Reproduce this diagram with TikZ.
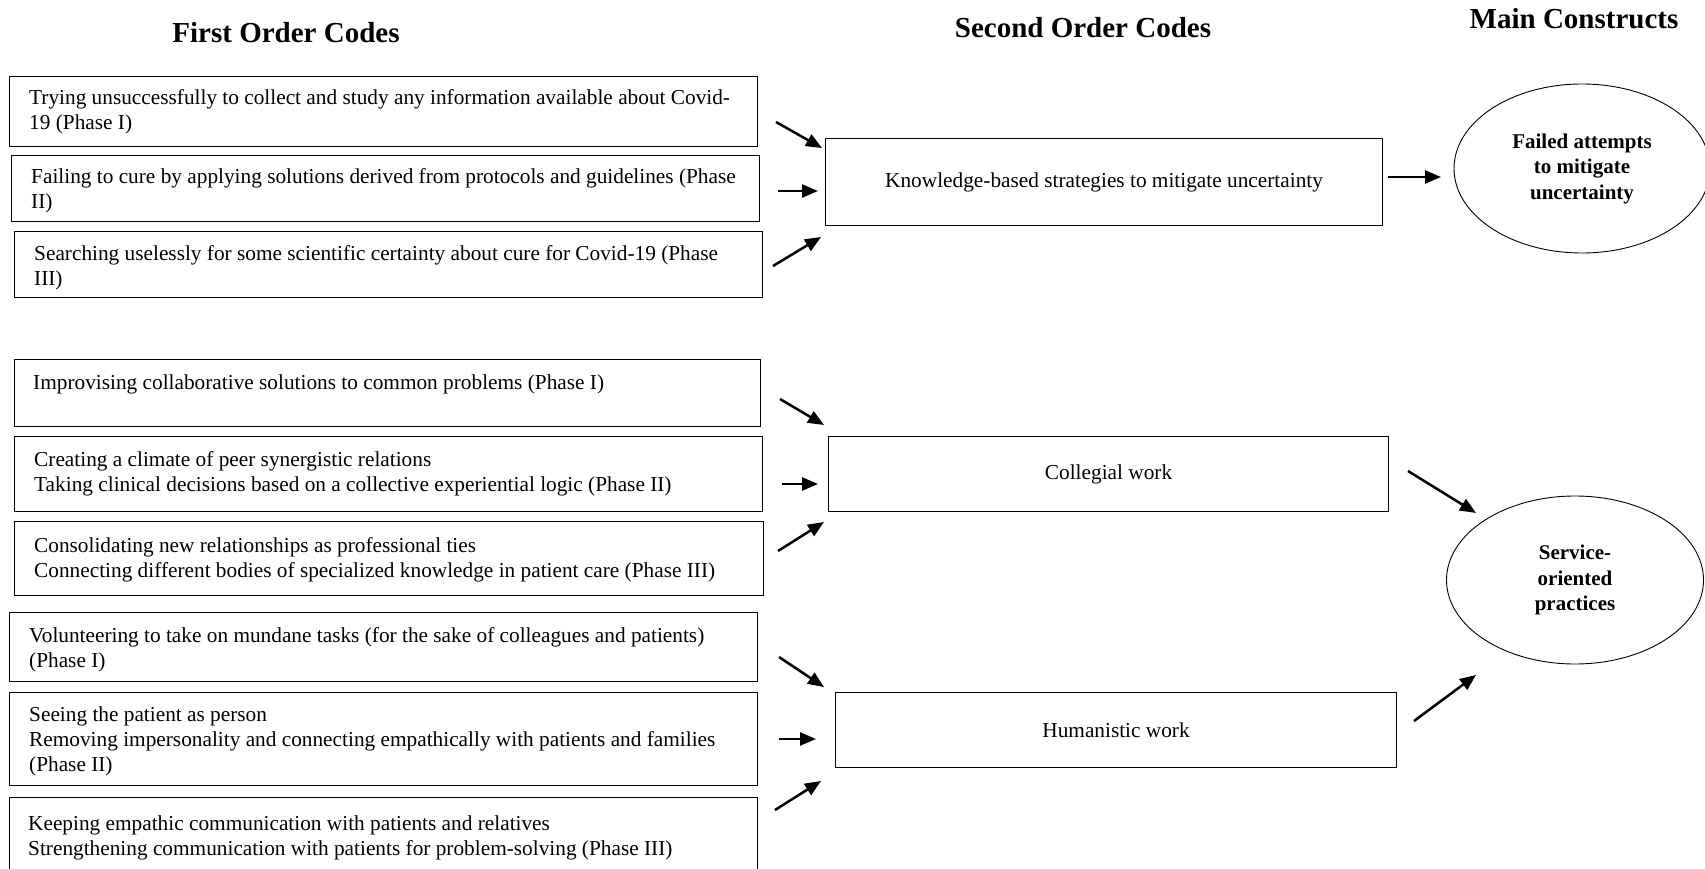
\documentclass[tikz,border=0pt]{standalone}
\usepackage{fontspec}
\setmainfont{Liberation Serif}
\usetikzlibrary{arrows.meta,shapes.geometric}
\newcommand\bodyfont{\fontsize{21.3}{25}\selectfont}
\newcommand\headfont{\fontsize{29}{34}\selectfont\bfseries}
\newcommand\constructtext[1]{\raisebox{-2.5pt}{\begin{tabular}{@{}c@{}}#1\end{tabular}}}
\begin{document}
\begin{tikzpicture}[x=1pt,y=-1pt,
  box/.style={draw=black, line width=1.1pt, inner sep=0pt, anchor=north west},
  midbox/.style={draw=black, line width=1.1pt, inner sep=0pt, anchor=north west, font=\bodyfont, align=center},
  codetext/.style={inner sep=0pt, anchor=base west, font=\bodyfont},
  head/.style={inner sep=0pt, anchor=base, font=\headfont},
  construct/.style={draw=black, line width=0.9pt, ellipse, inner sep=0pt,
    font=\fontsize{21}{25.5}\selectfont\bfseries},
  arr/.style={line width=2.5pt, -{Triangle[length=16pt,width=13pt]}}]
\clip (0,0) rectangle (1705,869);

% column headings
\node[head] (h1) at (286,43) {First Order Codes};
\node[head] (h2) at (1083,38) {Second Order Codes};
\node[head] (h3) at (1574,29) {Main Constructs};

% first order codes
\node[box, minimum width=748, minimum height=70] (f1) at (9,76) {};
\node[codetext] (f1t) at (29,105) {\parbox[t]{740pt}{Trying unsuccessfully to collect and study any information available about Covid-\\19 (Phase I)}};
\node[box, minimum width=748, minimum height=66] (f2) at (11,155) {};
\node[codetext] (f2t) at (31,184) {\parbox[t]{740pt}{Failing to cure by applying solutions derived from protocols and guidelines (Phase\\II)}};
\node[box, minimum width=748, minimum height=66] (f3) at (14,231) {};
\node[codetext] (f3t) at (34,260) {\parbox[t]{740pt}{Searching uselessly for some scientific certainty about cure for Covid-19 (Phase\\III)}};

\node[box, minimum width=746, minimum height=67] (f4) at (14,359) {};
\node[codetext] (f4t) at (33,389) {\parbox[t]{740pt}{Improvising collaborative solutions to common problems (Phase I)}};
\node[box, minimum width=748, minimum height=75] (f5) at (14,436) {};
\node[codetext] (f5t) at (34,466) {\parbox[t]{740pt}{Creating a climate of peer synergistic relations\\Taking clinical decisions based on a collective experiential logic (Phase II)}};
\node[box, minimum width=749, minimum height=74] (f6) at (14,521) {};
\node[codetext] (f6t) at (34,552) {\parbox[t]{740pt}{Consolidating new relationships as professional ties\\Connecting different bodies of specialized knowledge in patient care (Phase III)}};

\node[box, minimum width=748, minimum height=69] (f7) at (9,612) {};
\node[codetext] (f7t) at (29,642) {\parbox[t]{740pt}{Volunteering to take on mundane tasks (for the sake of colleagues and patients)\\(Phase I)}};
\node[box, minimum width=748, minimum height=93] (f8) at (9,692) {};
\node[codetext] (f8t) at (29,721) {\parbox[t]{740pt}{Seeing the patient as person\\Removing impersonality and connecting empathically with patients and families\\(Phase II)}};
\node[box, minimum width=748, minimum height=95] (f9) at (9,797) {};
\node[codetext] (f9t) at (28,830) {\parbox[t]{740pt}{Keeping empathic communication with patients and relatives\\Strengthening communication with patients for problem-solving (Phase III)}};

% second order codes
\node[midbox, minimum width=557, minimum height=87] (k) at (825,138) {\raisebox{-1.5pt}{Knowledge-based strategies to mitigate uncertainty}};
\node[midbox, minimum width=560, minimum height=75] (c) at (828,436) {\raisebox{-2pt}{Collegial work}};
\node[midbox, minimum width=561, minimum height=75] (hw) at (835,692) {\raisebox{-1.5pt}{Humanistic work}};

% main constructs
\node[construct, minimum width=256, minimum height=169] (fa) at (1582,168.5) {\constructtext{Failed attempts\\to mitigate\\uncertainty}};
\node[construct, minimum width=257, minimum height=168] (so) at (1575,580) {\constructtext{Service-\\oriented\\practices}};

% arrow end points
\coordinate (a1s) at (776,122);  \coordinate (a1e) at (822,148);
\coordinate (a2s) at (778,191);  \coordinate (a2e) at (818,191);
\coordinate (a3s) at (773,266);  \coordinate (a3e) at (821,237);
\coordinate (a4s) at (1388,177); \coordinate (a4e) at (1441,177);
\coordinate (b1s) at (780,399);  \coordinate (b1e) at (824,425);
\coordinate (b2s) at (782,484);  \coordinate (b2e) at (818,484);
\coordinate (b3s) at (778,551);  \coordinate (b3e) at (824,522);
\coordinate (b4s) at (1408,471); \coordinate (b4e) at (1476,513);
\coordinate (c1s) at (779,657);  \coordinate (c1e) at (824,687);
\coordinate (c2s) at (779,739);  \coordinate (c2e) at (816,739);
\coordinate (c3s) at (775,810);  \coordinate (c3e) at (821,781);
\coordinate (c4s) at (1414,721); \coordinate (c4e) at (1476,675);

\foreach \g in {a,b,c}{
  \foreach \i in {1,2,3,4}{
    \draw[arr] (\g\i s) -- (\g\i e);
  }
}
\end{tikzpicture}
\end{document}
